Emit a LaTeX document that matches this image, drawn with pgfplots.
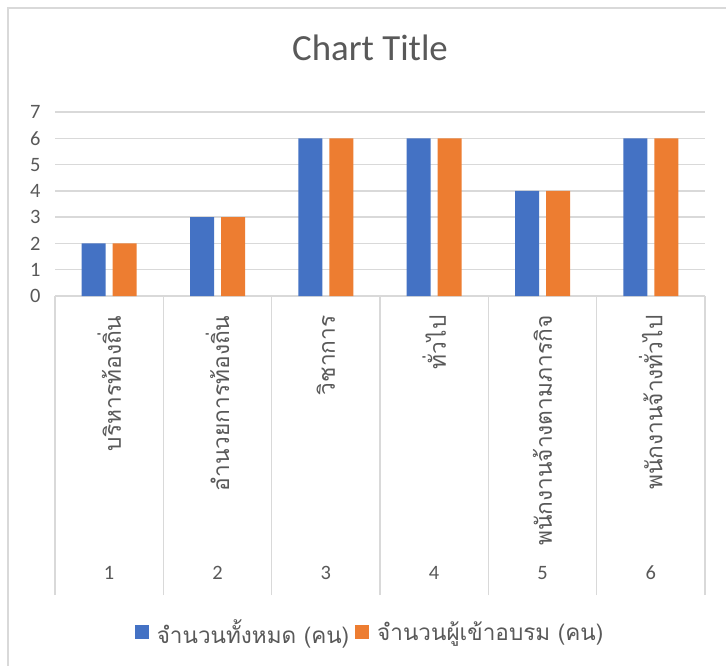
\documentclass[border=0pt]{standalone}
\usepackage{pgfplots}
\pgfplotsset{compat=1.18}
\usepackage{fontspec}
\setmainfont{Carlito}
\newfontfamily\thai[Script=Thai]{Loma}
\definecolor{txt}{HTML}{595959}
\definecolor{grd}{HTML}{D9D9D9}
\definecolor{cblue}{HTML}{4472C4}
\definecolor{corange}{HTML}{ED7D31}
\begin{document}
\begin{tikzpicture}
\useasboundingbox (0bp,0bp) rectangle (726bp,666bp);
\fill[white] (0bp,0bp) rectangle (726bp,666bp);
\draw[grd, line width=1.5bp] (8bp,0bp) -- (8bp,658bp) -- (726bp,658bp);
\begin{axis}[
  at={(55bp,370bp)}, anchor=south west,
  scale only axis, width=650bp, height=184bp,
  ybar=7bp, bar width=24bp,
  xmin=0.5, xmax=6.5, ymin=0, ymax=7,
  enlarge x limits=false,
  axis line style={draw=none},
  ymajorgrids, grid style={grd, line width=1.3bp},
  ytick={0,1,...,7},
  ytick style={draw=none},
  yticklabel style={xshift=-11bp},
  xtick={1,...,6},
  xtick pos=bottom,
  tick align=outside,
  major tick length=0pt,
  minor xtick={0.5,1.5,...,6.5},
  minor tick length=299bp,
  minor x tick style={grd, line width=1.3bp},
  tick label style={font=\fontsize{20.5}{24}\selectfont, text=txt},
  /pgf/number format/assume math mode=true,
  xticklabels={
    \rotatebox{90}{บริหารท้องถิ่น},
    \rotatebox{90}{อำนวยการท้องถิ่น},
    \rotatebox{90}{วิชาการ},
    \rotatebox{90}{ทั่วไป},
    \rotatebox{90}{พนักงานจ้างตามภารกิจ},
    \rotatebox{90}{พนักงานจ้างทั่วไป}},
  xticklabel style={anchor=north, yshift=-16bp, font=\thai\fontsize{22.8}{26}\selectfont},
  extra x ticks={1,2,3,4,5,6},
  extra x tick labels={1,2,3,4,5,6},
  extra x tick style={xticklabel style={anchor=center, yshift=-261bp, font=\normalfont\fontsize{20.5}{24}\selectfont}, major tick length=0pt},
  title={Chart Title},
  title style={at={(axis description cs:0.4846,1)}, anchor=center, yshift=58bp, font=\fontsize{37}{44}\selectfont, text=txt},
  legend columns=2,
  legend style={at={(axis description cs:0.4846,-1.826)}, anchor=center, draw=none, fill=none,
    font=\thai\fontsize{22.6}{26}\selectfont, text=txt,
    /tikz/every odd column/.append style={column sep=6bp},
    /tikz/every even column/.append style={column sep=4bp}},
  legend image code/.code={\fill[#1] (0bp,-7bp) rectangle (14bp,7bp);},
  clip=false,
]
\addplot[fill=cblue, draw=none] coordinates {(1,2) (2,3) (3,6) (4,6) (5,4) (6,6)};
\addplot[fill=corange, draw=none] coordinates {(1,2) (2,3) (3,6) (4,6) (5,4) (6,6)};
\legend{จำนวนทั้งหมด (คน), จำนวนผู้เข้าอบรม (คน)}
\end{axis}
\end{tikzpicture}
\end{document}
